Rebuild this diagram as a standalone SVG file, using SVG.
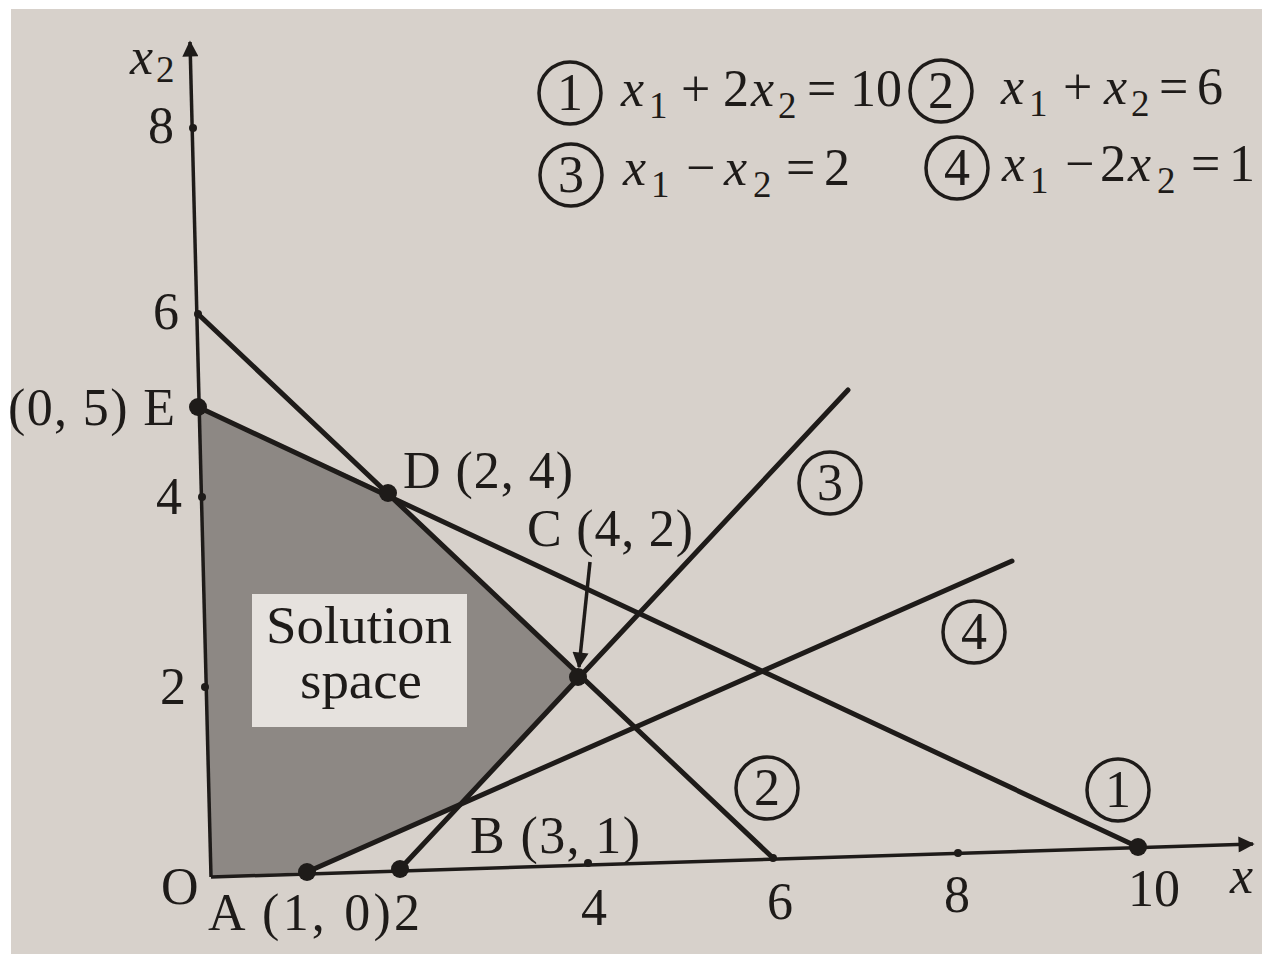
<svg xmlns="http://www.w3.org/2000/svg" width="1262" height="954" viewBox="0 0 1262 954">
<style>
.t{font-family:"Liberation Serif","Times New Roman",serif;fill:#1e1b19;font-size:52px}
.i{font-style:italic}
.s{font-size:37px;font-style:normal}
.ln{stroke:#1e1b19;stroke-width:5;fill:none;stroke-linecap:round}
.ax{stroke:#1e1b19;stroke-width:3.5;fill:none}
.cir{fill:none;stroke:#1e1b19;stroke-width:3.5}
.big{fill:#1e1b19}
</style>
<defs>
<marker id="ah" viewBox="0 0 10 10" refX="9" refY="5" markerWidth="7" markerHeight="4.6" markerUnits="strokeWidth" orient="auto">
<path d="M0,0 L10,5 L0,10 z" fill="#1e1b19"/>
</marker>
</defs>
<rect x="0" y="0" width="1262" height="954" fill="#ffffff"/>
<rect x="11" y="9" width="1251" height="945" fill="#d7d1cb"/>

<g id="solution-space">
<polygon points="211,877 307,872 460,804 578,677 388,493 198,407" fill="#8d8884"/>
<rect x="252" y="594" width="215" height="133" fill="#e6e2de"/>
<text class="t" x="266" y="643" font-size="54" textLength="186" lengthAdjust="spacingAndGlyphs">Solution</text>
<text class="t" x="300" y="698" font-size="54" textLength="122" lengthAdjust="spacingAndGlyphs">space</text>
</g>

<g id="axes">
<line class="ax" x1="211" y1="877" x2="190" y2="42" marker-end="url(#ah)"/>
<line class="ax" x1="211" y1="877" x2="1253" y2="844" marker-end="url(#ah)"/>
</g>

<g id="connectors">
<line id="line1" class="ln" x1="198" y1="407" x2="1138" y2="847"/>
<line id="line2" class="ln" x1="198" y1="314" x2="773" y2="858"/>
<line id="line3" class="ln" x1="400" y1="869" x2="848" y2="390"/>
<line id="line4" class="ln" x1="307" y1="872" x2="1012" y2="561"/>
<line id="arrowC" x1="590" y1="562" x2="579" y2="667" stroke="#1e1b19" stroke-width="3.5" marker-end="url(#ah)"/>
</g>

<g id="ticks" fill="#1e1b19">
<circle cx="193" cy="128" r="4"/>
<circle cx="198" cy="314" r="4"/>
<circle cx="202" cy="497" r="4"/>
<circle cx="205" cy="687" r="4"/>
<circle cx="588" cy="863" r="4"/>
<circle cx="773" cy="858" r="4"/>
<circle cx="958" cy="853" r="4"/>
</g>

<g id="point-E"><circle class="big" cx="198" cy="407" r="9"/><text class="t" x="175" y="425" text-anchor="end" textLength="167" lengthAdjust="spacing">(0, 5) E</text></g>
<g id="point-D"><circle class="big" cx="388" cy="493" r="9"/><text class="t" x="403" y="488" textLength="170" lengthAdjust="spacing">D (2, 4)</text></g>
<g id="point-C"><circle class="big" cx="578" cy="677" r="9"/><text class="t" x="527" y="546" textLength="166" lengthAdjust="spacing">C (4, 2)</text></g>
<g id="point-B"><text class="t" x="470" y="853" textLength="170" lengthAdjust="spacing">B (3, 1)</text></g>
<g id="point-A"><circle class="big" cx="307" cy="872" r="9"/><text class="t" x="208" y="930" textLength="212" lengthAdjust="spacing">A (1, 0)2</text></g>
<g id="point-2"><circle class="big" cx="400" cy="869" r="9"/></g>
<g id="point-10"><circle class="big" cx="1138" cy="847" r="9"/></g>
<g id="origin"><text class="t" x="161" y="904">O</text></g>

<g id="axis-labels">
<text class="t"><tspan class="i" x="130" y="74">x</tspan><tspan class="s" x="156" y="82">2</tspan></text>
<text class="t" x="148" y="143">8</text>
<text class="t" x="153" y="329">6</text>
<text class="t" x="156" y="514">4</text>
<text class="t" x="160" y="704">2</text>
<text class="t" x="581" y="925">4</text>
<text class="t" x="767" y="919">6</text>
<text class="t" x="944" y="912">8</text>
<text class="t" x="1128" y="906">10</text>
<text class="t i" x="1230" y="893">x</text>
</g>

<g id="label-1"><circle class="cir" cx="1118" cy="790" r="31"/><text class="t" x="1118" y="807" text-anchor="middle">1</text></g>
<g id="label-2"><circle class="cir" cx="767" cy="788" r="31"/><text class="t" x="767" y="805" text-anchor="middle">2</text></g>
<g id="label-3"><circle class="cir" cx="830" cy="483" r="31"/><text class="t" x="830" y="500" text-anchor="middle">3</text></g>
<g id="label-4"><circle class="cir" cx="974" cy="632" r="31"/><text class="t" x="974" y="649" text-anchor="middle">4</text></g>

<g id="legend">
<circle class="cir" cx="570" cy="93" r="31"/><text class="t" x="570" y="110" text-anchor="middle">1</text>
<circle class="cir" cx="941" cy="91" r="31"/><text class="t" x="941" y="108" text-anchor="middle">2</text>
<circle class="cir" cx="571" cy="175" r="31"/><text class="t" x="571" y="192" text-anchor="middle">3</text>
<circle class="cir" cx="957" cy="168" r="31"/><text class="t" x="957" y="185" text-anchor="middle">4</text>
<text class="t"><tspan class="i" x="621" y="106">x</tspan><tspan class="s" x="649" y="118">1</tspan><tspan x="681" y="106">+</tspan><tspan x="723" y="106">2</tspan><tspan class="i" x="751" y="106">x</tspan><tspan class="s" x="778" y="118">2</tspan><tspan x="807" y="106">=</tspan><tspan x="850" y="106">10</tspan></text>
<text class="t"><tspan class="i" x="1001" y="104">x</tspan><tspan class="s" x="1029" y="116">1</tspan><tspan x="1063" y="104">+</tspan><tspan class="i" x="1104" y="104">x</tspan><tspan class="s" x="1131" y="116">2</tspan><tspan x="1159" y="104">=</tspan><tspan x="1197" y="104">6</tspan></text>
<text class="t"><tspan class="i" x="623" y="185">x</tspan><tspan class="s" x="651" y="197">1</tspan><tspan x="686" y="185">−</tspan><tspan class="i" x="724" y="185">x</tspan><tspan class="s" x="753" y="197">2</tspan><tspan x="786" y="185">=</tspan><tspan x="824" y="185">2</tspan></text>
<text class="t"><tspan class="i" x="1002" y="181">x</tspan><tspan class="s" x="1030" y="193">1</tspan><tspan x="1065" y="181">−</tspan><tspan x="1100" y="181">2</tspan><tspan class="i" x="1128" y="181">x</tspan><tspan class="s" x="1157" y="193">2</tspan><tspan x="1191" y="181">=</tspan><tspan x="1229" y="181">1</tspan></text>
</g>
</svg>
